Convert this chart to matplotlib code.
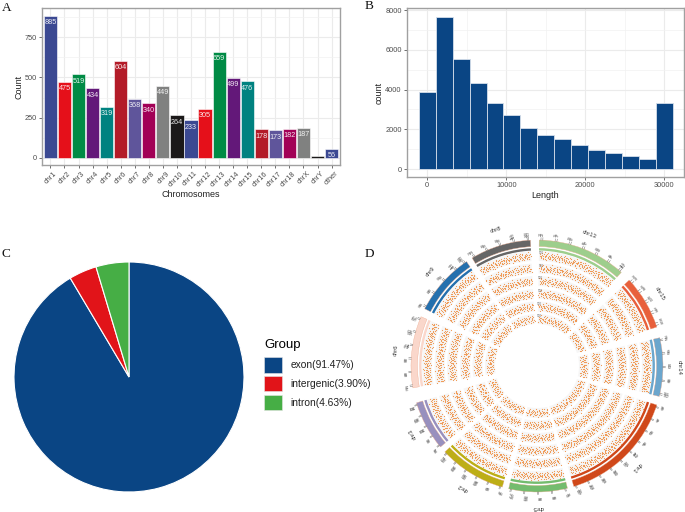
import numpy as np
import matplotlib
matplotlib.use('Agg')
import matplotlib.pyplot as plt
from matplotlib.patches import Patch
from matplotlib.transforms import ScaledTranslation

plt.rcParams['font.family'] = ['Liberation Sans', 'DejaVu Sans']

W, H = 685, 512

# panel A
chroms = ['chr1', 'chr2', 'chr3', 'chr4', 'chr5', 'chr6', 'chr7', 'chr8', 'chr9', 'chr10', 'chr11',
          'chr12', 'chr13', 'chr14', 'chr15', 'chr16', 'chr17', 'chr18', 'chrX', 'chrY', 'other']
chrom_counts = [885, 475, 519, 434, 319, 604, 368, 340, 449, 264, 233,
                305, 659, 499, 476, 178, 173, 182, 187, 12, 56]
chrom_labels = ['885', '475', '519', '434', '319', '604', '368', '340', '449', '264', '233',
                '305', '659', '499', '476', '178', '173', '182', '187', '', '56']
aaas = ['#3B4992', '#E5101A', '#008B45', '#631879', '#008280',
        '#B31B28', '#5F559B', '#A20056', '#808180', '#1B1919']

# panel B
bin_centers = [0, 2143, 4286, 6429, 8571, 10714, 12857, 15000, 17143, 19286, 21429, 23571, 25714, 27857, 30000]
bin_counts = [3870, 7680, 5560, 4340, 3340, 2700, 2060, 1700, 1500, 1230, 960, 800, 680, 480, 3320]

# panel C
groups = ['exon(91.47%)', 'intergenic(3.90%)', 'intron(4.63%)']
group_pct = [91.47, 3.90, 4.63]
group_colors = ['#0A4584', '#E11419', '#46AE45']

# panel D, sectors clockwise from the top, angles in degrees
sector_names = ['chr13', 'chr15', 'chr14', 'chr1', 'chr5', 'chr2', 'chr3', 'chr6', 'chr9', 'chr8']
sector_start = [1, 47, 77, 108, 166, 196, 230, 260, 297, 329]
sector_end = [42, 72, 104, 163, 193, 227, 253, 293, 326, 357]
sector_colors = ['#9DCE8C', '#E8603C', '#6BA6CD', '#D0481A', '#74BC6E',
                 '#BDAE16', '#9890BE', '#FAD7CB', '#2470AE', '#666666']
# tick labels are too small to read, these are estimates
sector_ticks = [
    [20, 22, 35, 37, 50, 52, 65, 67, 80, 82, 95, 97, 110, 112],
    [30, 33, 45, 48, 60, 63, 75, 78, 90, 93],
    [20, 22, 40, 42, 60, 62, 80, 82, 100, 102],
    [10, 12, 35, 37, 60, 62, 85, 87, 110, 112, 135, 137, 160, 162, 185, 187, 210, 212, 235, 237],
    [10, 13, 50, 53, 90, 93, 130, 133, 170, 173],
    [20, 23, 60, 63, 100, 103, 140, 143, 180, 183, 220, 223],
    [20, 23, 60, 63, 100, 103, 140, 143, 180, 183],
    [20, 23, 50, 53, 80, 83, 110, 113, 140, 143, 170, 173],
    [20, 23, 50, 53, 80, 83, 110, 113, 130, 133],
    [20, 23, 50, 53, 80, 83, 110, 113, 140, 143],
]
# scatter inside a track: short estimated patterns, tiled along the sectors
dot_heights = [0.46, 0.71, 0.28, 0.55, 0.84, 0.37, 0.62, 0.15, 0.49, 0.77, 0.33, 0.58, 0.92, 0.41, 0.24, 0.67,
               0.52, 0.09, 0.74, 0.44, 0.31, 0.60, 0.86, 0.19, 0.53, 0.38, 0.69, 0.26, 0.81, 0.47, 0.13, 0.64,
               0.35, 0.56, 0.43, 0.79, 0.22, 0.51, 0.66, 0.30, 0.97, 0.48, 0.17, 0.59, 0.72, 0.40, 0.54, 0.05]
dot_shifts = [0.05, -0.22, 0.31, -0.09, 0.18, -0.33, 0.12, 0.27, -0.16, 0.02, -0.28, 0.35, -0.04, 0.21, -0.12, 0.09, -0.36]
track_radii = [110, 97.5, 85, 72, 59.5, 47]
track_height = 9


def px_axes(left, top, right, bottom, **kw):
    return fig.add_axes([left / W, 1 - bottom / H, (right - left) / W, (bottom - top) / H], **kw)


def style_gg(ax, size):
    for s in ax.spines.values():
        s.set_color('#A0A0A0')
        s.set_linewidth(1.0)
    ax.set_axisbelow(True)
    ax.grid(True, which='major', color='#EBEBEB', lw=0.8)
    ax.grid(True, which='minor', color='#F2F2F2', lw=0.5)
    ax.tick_params(which='major', length=2.2, width=0.5, color='#333333', labelcolor='#4D4D4D', labelsize=size, pad=1.5)
    ax.tick_params(which='minor', length=0)


fig = plt.figure(figsize=(W / 100, H / 100), dpi=100)

# A
ax = px_axes(42, 8, 340, 165)
x = np.arange(1, len(chroms) + 1)
bar_cols = [aaas[i % 10] for i in range(len(chroms))]
ax.bar(x, chrom_counts, width=0.94, color=bar_cols, edgecolor='white', linewidth=0.4)
for xi, v, lab in zip(x, chrom_counts, chrom_labels):
    ax.text(xi, v - 43, lab, color='white', fontsize=5.2, ha='center', va='center', alpha=0.9)
ax.set_xlim(0.4, 21.6)
ax.set_ylim(-44, 932)
ax.set_yticks([0, 250, 500, 750])
ax.set_yticks([125, 375, 625, 875], minor=True)
ax.set_xticks(x)
ax.set_xticklabels(chroms, rotation=45, ha='right', rotation_mode='anchor')
style_gg(ax, 5.3)
shift = ScaledTranslation(3 / 100, 0, fig.dpi_scale_trans)
for lab in ax.get_xticklabels():
    lab.set_transform(lab.get_transform() + shift)
ax.set_xlabel('Chromosomes', fontsize=6.5, color='#222222', labelpad=1)
ax.set_ylabel('Count', fontsize=6.5, color='#222222', labelpad=1)

# B
ax = px_axes(407, 8, 684, 177)
ax.bar(bin_centers, bin_counts, width=2143, color='#0A4584', edgecolor='#D5DEEA', linewidth=0.6)
ax.set_xlim(-2570, 32494)
ax.set_ylim(-403, 8115)
ax.set_xticks([0, 10000, 20000, 30000])
ax.set_xticks([5000, 15000, 25000], minor=True)
ax.set_yticks([0, 2000, 4000, 6000, 8000])
ax.set_yticks([1000, 3000, 5000, 7000], minor=True)
style_gg(ax, 5.3)
ax.set_xlabel('Length', fontsize=6.5, color='#222222', labelpad=1)
ax.set_ylabel('count', fontsize=6.5, color='#222222', labelpad=1.5)

# C
ax = px_axes(14, 262, 244, 492)
ax.pie(group_pct, colors=group_colors, startangle=90, counterclock=False, radius=1.0,
       wedgeprops={'edgecolor': 'white', 'linewidth': 0.8})
ax.set_xlim(-1, 1)
ax.set_ylim(-1, 1)
handles = [Patch(facecolor=c, edgecolor='#E5E5E5', linewidth=0.4) for c in group_colors]
leg = fig.legend(handles, groups, title='Group', loc='upper left', bbox_to_anchor=(261 / W, 1 - 336 / H),
                 frameon=False, fontsize=7.4, title_fontsize=9.5, handlelength=1.75, handleheight=2.0,
                 handletextpad=0.8, labelspacing=0.3, alignment='left', borderpad=0.3, borderaxespad=0,
                 labelcolor='#222222')
leg._legend_box.sep = 4

# D
cx, cy, rmax = 537, 366, 146
ax = px_axes(cx - rmax, cy - rmax, cx + rmax, cy + rmax, projection='polar')
ax.set_theta_zero_location('N')
ax.set_theta_direction(-1)
ax.set_ylim(0, rmax)
ax.axis('off')

for k, name in enumerate(sector_names):
    a0, a1 = sector_start[k], sector_end[k]
    mid = np.radians((a0 + a1) / 2)
    span = np.radians(a1 - a0)
    col = sector_colors[k]
    ax.bar(mid, 6.5, width=span, bottom=119.5, color=col, edgecolor='#EDA98C', linewidth=0.25)
    ax.bar(mid, 2.4, width=span, bottom=115.5, color=col, linewidth=0)
    for j, rc in enumerate(track_radii):
        ax.bar(mid, track_height + 1, width=span, bottom=rc - (track_height + 1) / 2, color='#F6F6F6', linewidth=0)
        n = int((a1 - a0) * rc / 24)
        th = np.linspace(a0 + 0.4, a1 - 0.4, n) + np.take(dot_shifts, np.arange(n) + 5 * j + k, mode='wrap') * 110 / rc
        fr = np.take(dot_heights, np.arange(n) + 11 * j + 7 * k, mode='wrap')
        ax.scatter(np.radians(th), rc - track_height / 2 + fr * track_height,
                   s=0.7, color='#F0964E', linewidths=0, zorder=3)
    ticks = np.array(sector_ticks[k])
    t_ang = a0 + 0.8 + (ticks - ticks.min()) / (ticks.max() - ticks.min()) * (a1 - a0 - 1.6)
    for v, t in zip(ticks, t_ang):
        ax.plot([np.radians(t)] * 2, [126, 128.5], color='#555555', lw=0.3)
        ax.text(np.radians(t), 132.5, str(v), fontsize=2.6, color='#555555', ha='center', va='center',
                rotation=90 - t, rotation_mode='anchor')
    ax.text(mid, 142, name, fontsize=4.2, color='#333333', ha='center', va='center',
            rotation=-(a0 + a1) / 2, rotation_mode='anchor')

# small y axis labels at the start of chr13
for rc in track_radii:
    ax.text(np.radians(2.4), rc + 3, '500', fontsize=2.2, color='#666666', ha='center', va='center')

# panel letters
for letter, lx, ly in [('A', 7, 8), ('B', 369, 6), ('C', 6, 254), ('D', 369, 254)]:
    fig.text(lx / W, 1 - ly / H, letter, family='Liberation Serif', fontsize=9.5, color='#111111',
             ha='center', va='center')

fig.savefig('out.png', dpi=100)
